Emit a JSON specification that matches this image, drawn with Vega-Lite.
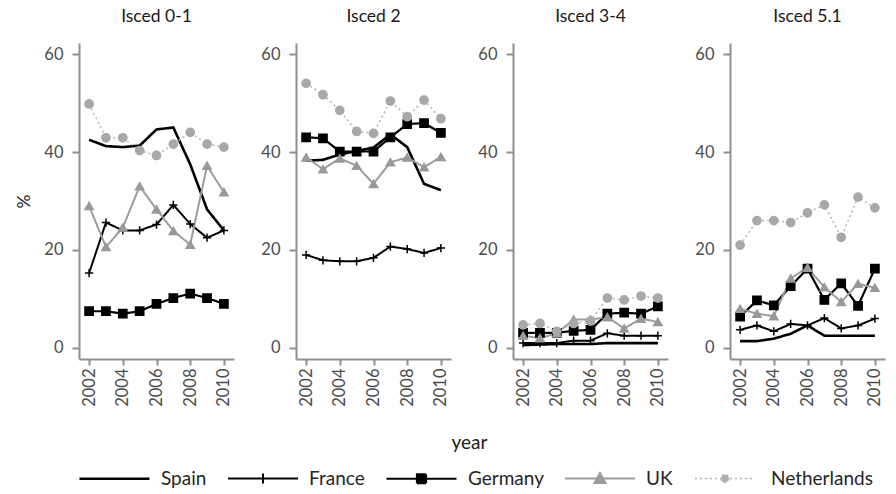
{
  "$schema": "https://vega.github.io/schema/vega-lite/v6.json",
  "padding": {"left": 15, "top": 7, "right": 4, "bottom": 2},
  "background": "white",
  "bounds": "flush",
  "data": {"values": [
    {"level":"Isced 0-1","country":"Spain","year":2002,"value":42.5},{"level":"Isced 0-1","country":"Spain","year":2003,"value":41.2},{"level":"Isced 0-1","country":"Spain","year":2004,"value":41},{"level":"Isced 0-1","country":"Spain","year":2005,"value":41.3},{"level":"Isced 0-1","country":"Spain","year":2006,"value":44.6},{"level":"Isced 0-1","country":"Spain","year":2007,"value":45},{"level":"Isced 0-1","country":"Spain","year":2008,"value":37.5},{"level":"Isced 0-1","country":"Spain","year":2009,"value":28.3},{"level":"Isced 0-1","country":"Spain","year":2010,"value":24},
    {"level":"Isced 0-1","country":"France","year":2002,"value":15.3},{"level":"Isced 0-1","country":"France","year":2003,"value":25.6},{"level":"Isced 0-1","country":"France","year":2004,"value":24},{"level":"Isced 0-1","country":"France","year":2005,"value":24},{"level":"Isced 0-1","country":"France","year":2006,"value":25.2},{"level":"Isced 0-1","country":"France","year":2007,"value":29.2},{"level":"Isced 0-1","country":"France","year":2008,"value":25.3},{"level":"Isced 0-1","country":"France","year":2009,"value":22.5},{"level":"Isced 0-1","country":"France","year":2010,"value":24},
    {"level":"Isced 0-1","country":"Germany","year":2002,"value":7.5},{"level":"Isced 0-1","country":"Germany","year":2003,"value":7.5},{"level":"Isced 0-1","country":"Germany","year":2004,"value":7},{"level":"Isced 0-1","country":"Germany","year":2005,"value":7.5},{"level":"Isced 0-1","country":"Germany","year":2006,"value":9},{"level":"Isced 0-1","country":"Germany","year":2007,"value":10.2},{"level":"Isced 0-1","country":"Germany","year":2008,"value":11.1},{"level":"Isced 0-1","country":"Germany","year":2009,"value":10.2},{"level":"Isced 0-1","country":"Germany","year":2010,"value":9},
    {"level":"Isced 0-1","country":"UK","year":2002,"value":29},{"level":"Isced 0-1","country":"UK","year":2003,"value":20.6},{"level":"Isced 0-1","country":"UK","year":2004,"value":24.6},{"level":"Isced 0-1","country":"UK","year":2005,"value":33},{"level":"Isced 0-1","country":"UK","year":2006,"value":28.3},{"level":"Isced 0-1","country":"UK","year":2007,"value":23.9},{"level":"Isced 0-1","country":"UK","year":2008,"value":21.1},{"level":"Isced 0-1","country":"UK","year":2009,"value":37.2},{"level":"Isced 0-1","country":"UK","year":2010,"value":31.8},
    {"level":"Isced 0-1","country":"Netherlands","year":2002,"value":49.8},{"level":"Isced 0-1","country":"Netherlands","year":2003,"value":42.9},{"level":"Isced 0-1","country":"Netherlands","year":2004,"value":42.9},{"level":"Isced 0-1","country":"Netherlands","year":2005,"value":40.3},{"level":"Isced 0-1","country":"Netherlands","year":2006,"value":39.3},{"level":"Isced 0-1","country":"Netherlands","year":2007,"value":41.6},{"level":"Isced 0-1","country":"Netherlands","year":2008,"value":44},{"level":"Isced 0-1","country":"Netherlands","year":2009,"value":41.6},{"level":"Isced 0-1","country":"Netherlands","year":2010,"value":41},

    {"level":"Isced 2","country":"Spain","year":2002,"value":38.2},{"level":"Isced 2","country":"Spain","year":2003,"value":38.4},{"level":"Isced 2","country":"Spain","year":2004,"value":39.5},{"level":"Isced 2","country":"Spain","year":2005,"value":40.2},{"level":"Isced 2","country":"Spain","year":2006,"value":40.9},{"level":"Isced 2","country":"Spain","year":2007,"value":43.6},{"level":"Isced 2","country":"Spain","year":2008,"value":41},{"level":"Isced 2","country":"Spain","year":2009,"value":33.5},{"level":"Isced 2","country":"Spain","year":2010,"value":32.2},
    {"level":"Isced 2","country":"France","year":2002,"value":19},{"level":"Isced 2","country":"France","year":2003,"value":17.9},{"level":"Isced 2","country":"France","year":2004,"value":17.7},{"level":"Isced 2","country":"France","year":2005,"value":17.7},{"level":"Isced 2","country":"France","year":2006,"value":18.4},{"level":"Isced 2","country":"France","year":2007,"value":20.7},{"level":"Isced 2","country":"France","year":2008,"value":20.2},{"level":"Isced 2","country":"France","year":2009,"value":19.4},{"level":"Isced 2","country":"France","year":2010,"value":20.4},
    {"level":"Isced 2","country":"Germany","year":2002,"value":43},{"level":"Isced 2","country":"Germany","year":2003,"value":42.8},{"level":"Isced 2","country":"Germany","year":2004,"value":40.1},{"level":"Isced 2","country":"Germany","year":2005,"value":40.1},{"level":"Isced 2","country":"Germany","year":2006,"value":40.1},{"level":"Isced 2","country":"Germany","year":2007,"value":43},{"level":"Isced 2","country":"Germany","year":2008,"value":45.7},{"level":"Isced 2","country":"Germany","year":2009,"value":45.9},{"level":"Isced 2","country":"Germany","year":2010,"value":43.9},
    {"level":"Isced 2","country":"UK","year":2002,"value":38.9},{"level":"Isced 2","country":"UK","year":2003,"value":36.5},{"level":"Isced 2","country":"UK","year":2004,"value":38.7},{"level":"Isced 2","country":"UK","year":2005,"value":37.2},{"level":"Isced 2","country":"UK","year":2006,"value":33.5},{"level":"Isced 2","country":"UK","year":2007,"value":37.9},{"level":"Isced 2","country":"UK","year":2008,"value":38.9},{"level":"Isced 2","country":"UK","year":2009,"value":36.9},{"level":"Isced 2","country":"UK","year":2010,"value":39},
    {"level":"Isced 2","country":"Netherlands","year":2002,"value":54},{"level":"Isced 2","country":"Netherlands","year":2003,"value":51.7},{"level":"Isced 2","country":"Netherlands","year":2004,"value":48.5},{"level":"Isced 2","country":"Netherlands","year":2005,"value":44.2},{"level":"Isced 2","country":"Netherlands","year":2006,"value":43.8},{"level":"Isced 2","country":"Netherlands","year":2007,"value":50.4},{"level":"Isced 2","country":"Netherlands","year":2008,"value":47.2},{"level":"Isced 2","country":"Netherlands","year":2009,"value":50.6},{"level":"Isced 2","country":"Netherlands","year":2010,"value":46.8},

    {"level":"Isced 3-4","country":"Spain","year":2002,"value":0.6},{"level":"Isced 3-4","country":"Spain","year":2003,"value":0.7},{"level":"Isced 3-4","country":"Spain","year":2004,"value":0.8},{"level":"Isced 3-4","country":"Spain","year":2005,"value":0.8},{"level":"Isced 3-4","country":"Spain","year":2006,"value":0.8},{"level":"Isced 3-4","country":"Spain","year":2007,"value":1},{"level":"Isced 3-4","country":"Spain","year":2008,"value":1},{"level":"Isced 3-4","country":"Spain","year":2009,"value":1},{"level":"Isced 3-4","country":"Spain","year":2010,"value":1},
    {"level":"Isced 3-4","country":"France","year":2002,"value":1},{"level":"Isced 3-4","country":"France","year":2003,"value":1},{"level":"Isced 3-4","country":"France","year":2004,"value":1},{"level":"Isced 3-4","country":"France","year":2005,"value":1.5},{"level":"Isced 3-4","country":"France","year":2006,"value":1.5},{"level":"Isced 3-4","country":"France","year":2007,"value":3},{"level":"Isced 3-4","country":"France","year":2008,"value":2.5},{"level":"Isced 3-4","country":"France","year":2009,"value":2.5},{"level":"Isced 3-4","country":"France","year":2010,"value":2.5},
    {"level":"Isced 3-4","country":"Germany","year":2002,"value":3.1},{"level":"Isced 3-4","country":"Germany","year":2003,"value":3.1},{"level":"Isced 3-4","country":"Germany","year":2004,"value":3.1},{"level":"Isced 3-4","country":"Germany","year":2005,"value":3.5},{"level":"Isced 3-4","country":"Germany","year":2006,"value":3.7},{"level":"Isced 3-4","country":"Germany","year":2007,"value":7},{"level":"Isced 3-4","country":"Germany","year":2008,"value":7.2},{"level":"Isced 3-4","country":"Germany","year":2009,"value":7},{"level":"Isced 3-4","country":"Germany","year":2010,"value":8.5},
    {"level":"Isced 3-4","country":"UK","year":2002,"value":2.5},{"level":"Isced 3-4","country":"UK","year":2003,"value":2},{"level":"Isced 3-4","country":"UK","year":2004,"value":3},{"level":"Isced 3-4","country":"UK","year":2005,"value":5.8},{"level":"Isced 3-4","country":"UK","year":2006,"value":5.8},{"level":"Isced 3-4","country":"UK","year":2007,"value":6.3},{"level":"Isced 3-4","country":"UK","year":2008,"value":4},{"level":"Isced 3-4","country":"UK","year":2009,"value":6},{"level":"Isced 3-4","country":"UK","year":2010,"value":5.3},
    {"level":"Isced 3-4","country":"Netherlands","year":2002,"value":4.7},{"level":"Isced 3-4","country":"Netherlands","year":2003,"value":5},{"level":"Isced 3-4","country":"Netherlands","year":2004,"value":3.4},{"level":"Isced 3-4","country":"Netherlands","year":2005,"value":5},{"level":"Isced 3-4","country":"Netherlands","year":2006,"value":5.5},{"level":"Isced 3-4","country":"Netherlands","year":2007,"value":10.2},{"level":"Isced 3-4","country":"Netherlands","year":2008,"value":9.8},{"level":"Isced 3-4","country":"Netherlands","year":2009,"value":10.6},{"level":"Isced 3-4","country":"Netherlands","year":2010,"value":10.2},

    {"level":"Isced 5.1","country":"Spain","year":2002,"value":1.4},{"level":"Isced 5.1","country":"Spain","year":2003,"value":1.4},{"level":"Isced 5.1","country":"Spain","year":2004,"value":1.9},{"level":"Isced 5.1","country":"Spain","year":2005,"value":2.9},{"level":"Isced 5.1","country":"Spain","year":2006,"value":4.6},{"level":"Isced 5.1","country":"Spain","year":2007,"value":2.5},{"level":"Isced 5.1","country":"Spain","year":2008,"value":2.5},{"level":"Isced 5.1","country":"Spain","year":2009,"value":2.5},{"level":"Isced 5.1","country":"Spain","year":2010,"value":2.5},
    {"level":"Isced 5.1","country":"France","year":2002,"value":3.7},{"level":"Isced 5.1","country":"France","year":2003,"value":4.6},{"level":"Isced 5.1","country":"France","year":2004,"value":3.4},{"level":"Isced 5.1","country":"France","year":2005,"value":4.9},{"level":"Isced 5.1","country":"France","year":2006,"value":4.6},{"level":"Isced 5.1","country":"France","year":2007,"value":6.1},{"level":"Isced 5.1","country":"France","year":2008,"value":4},{"level":"Isced 5.1","country":"France","year":2009,"value":4.6},{"level":"Isced 5.1","country":"France","year":2010,"value":6},
    {"level":"Isced 5.1","country":"Germany","year":2002,"value":6.4},{"level":"Isced 5.1","country":"Germany","year":2003,"value":9.7},{"level":"Isced 5.1","country":"Germany","year":2004,"value":8.7},{"level":"Isced 5.1","country":"Germany","year":2005,"value":12.6},{"level":"Isced 5.1","country":"Germany","year":2006,"value":16.2},{"level":"Isced 5.1","country":"Germany","year":2007,"value":9.8},{"level":"Isced 5.1","country":"Germany","year":2008,"value":13.2},{"level":"Isced 5.1","country":"Germany","year":2009,"value":8.6},{"level":"Isced 5.1","country":"Germany","year":2010,"value":16.2},
    {"level":"Isced 5.1","country":"UK","year":2002,"value":8},{"level":"Isced 5.1","country":"UK","year":2003,"value":7},{"level":"Isced 5.1","country":"UK","year":2004,"value":6.5},{"level":"Isced 5.1","country":"UK","year":2005,"value":14.2},{"level":"Isced 5.1","country":"UK","year":2006,"value":16.4},{"level":"Isced 5.1","country":"UK","year":2007,"value":12.4},{"level":"Isced 5.1","country":"UK","year":2008,"value":9.4},{"level":"Isced 5.1","country":"UK","year":2009,"value":13.1},{"level":"Isced 5.1","country":"UK","year":2010,"value":12.3},
    {"level":"Isced 5.1","country":"Netherlands","year":2002,"value":21},{"level":"Isced 5.1","country":"Netherlands","year":2003,"value":26},{"level":"Isced 5.1","country":"Netherlands","year":2004,"value":26},{"level":"Isced 5.1","country":"Netherlands","year":2005,"value":25.6},{"level":"Isced 5.1","country":"Netherlands","year":2006,"value":27.6},{"level":"Isced 5.1","country":"Netherlands","year":2007,"value":29.2},{"level":"Isced 5.1","country":"Netherlands","year":2008,"value":22.6},{"level":"Isced 5.1","country":"Netherlands","year":2009,"value":30.8},{"level":"Isced 5.1","country":"Netherlands","year":2010,"value":28.6}
  ]},
  "hconcat": [
    {
      "title": "Isced 0-1", "width": 155, "height": 316,
      "transform": [{"filter": "datum.level === 'Isced 0-1'"}],
      "encoding": {
        "x": {"field": "year", "type": "quantitative", "scale": {"domain": [2001.4, 2010.6], "nice": false, "zero": false}, "axis": {"values": [2002, 2004, 2006, 2008, 2010], "format": "d", "labelAngle": -90, "title": null}},
        "y": {"field": "value", "type": "quantitative", "scale": {"domain": [-2.25, 62.25], "nice": false, "zero": false}, "axis": {"values": [0, 20, 40, 60], "title": "%", "titlePadding": 10}}
      },
      "layer": [
        {"mark": {"type": "line"}, "encoding": {
          "color": {"field": "country", "type": "nominal", "scale": {"domain": ["Spain", "France", "Germany", "UK", "Netherlands"], "range": ["#000000", "#000000", "#000000", "#9c9c9c", "#b5b5b5"]},
            "legend": {"title": null, "orient": "bottom", "direction": "horizontal", "symbolSize": 400, "symbolStrokeWidth": 2, "labelFontSize": 19, "labelColor": "#262626", "labelOffset": 59, "columnPadding": 17, "offset": 14,
              "encode": {"symbols": {"update": {
                "shape": {"signal": "datum.value === 'Spain' ? 'M-1.1,0H5.9' : datum.value === 'France' ? 'M-1.1,0H5.9M2.4,-0.5V0.5' : datum.value === 'Germany' ? 'M-1.1,0H5.9M1.95,-0.45H2.85V0.45H1.95Z' : datum.value === 'UK' ? 'M-1.1,0H5.9M2.4,-0.55L2.95,0.45H1.85Z' : 'M-0.6,0H5.4M2.8,0A0.4,0.4 0 1,1 2,0A0.4,0.4 0 1,1 2.8,0Z'"},
                "stroke": {"signal": "datum.value === 'UK' ? '#9c9c9c' : datum.value === 'Netherlands' ? '#b0b0b0' : '#000000'"},
                "fill": {"signal": "datum.value === 'UK' ? '#9c9c9c' : datum.value === 'Netherlands' ? '#b0b0b0' : '#000000'"},
                "strokeWidth": {"signal": "datum.value === 'Spain' ? 3 : datum.value === 'Netherlands' ? 1.6 : 2.4"},
                "strokeDash": {"signal": "datum.value === 'Netherlands' ? [2, 3] : [1, 0]"},
                "opacity": {"value": 1}, "fillOpacity": {"value": 1}, "strokeOpacity": {"value": 1}
              }}}}},
          "strokeDash": {"field": "country", "type": "nominal", "scale": {"domain": ["Spain", "France", "Germany", "UK", "Netherlands"], "range": [[1, 0], [1, 0], [1, 0], [1, 0], [2, 3]]}, "legend": null},
          "strokeWidth": {"field": "country", "type": "nominal", "scale": {"type": "ordinal", "domain": ["Spain", "France", "Germany", "UK", "Netherlands"], "range": [2.6, 2, 2.2, 2, 1.5]}, "legend": null}
        }},
        {"transform": [{"filter": "datum.country !== 'Spain'"}],
         "mark": {"type": "point", "filled": true, "opacity": 1, "strokeWidth": 1.5, "size": 68},
         "encoding": {
          "shape": {"field": "country", "type": "nominal", "scale": {"domain": ["France", "Germany", "UK", "Netherlands"], "range": ["M-1,0H1M0,-1V1", "square", "triangle-up", "circle"]}, "legend": null},
          "fill": {"field": "country", "type": "nominal", "scale": {"domain": ["France", "Germany", "UK", "Netherlands"], "range": ["#000000", "#000000", "#999999", "#a8a8a8"]}, "legend": null},
          "stroke": {"field": "country", "type": "nominal", "scale": {"domain": ["France", "Germany", "UK", "Netherlands"], "range": ["#000000", "#000000", "#999999", "#a8a8a8"]}, "legend": null}
        }}
      ]
    },
    {
      "title": "Isced 2", "width": 155, "height": 316,
      "transform": [{"filter": "datum.level === 'Isced 2'"}],
      "encoding": {
        "x": {"field": "year", "type": "quantitative", "scale": {"domain": [2001.4, 2010.6], "nice": false, "zero": false}, "axis": {"values": [2002, 2004, 2006, 2008, 2010], "format": "d", "labelAngle": -90, "title": "year", "titleAnchor": "end", "titleAlign": "left", "titlePadding": 27, "titleFontSize": 19}},
        "y": {"field": "value", "type": "quantitative", "scale": {"domain": [-2.25, 62.25], "nice": false, "zero": false}, "axis": {"values": [0, 20, 40, 60], "title": null}}
      },
      "layer": [
        {"mark": {"type": "line"}, "encoding": {
          "color": {"field": "country", "type": "nominal", "scale": {"domain": ["Spain", "France", "Germany", "UK", "Netherlands"], "range": ["#000000", "#000000", "#000000", "#9c9c9c", "#b5b5b5"]}},
          "strokeDash": {"field": "country", "type": "nominal", "scale": {"domain": ["Spain", "France", "Germany", "UK", "Netherlands"], "range": [[1, 0], [1, 0], [1, 0], [1, 0], [2, 3]]}, "legend": null},
          "strokeWidth": {"field": "country", "type": "nominal", "scale": {"type": "ordinal", "domain": ["Spain", "France", "Germany", "UK", "Netherlands"], "range": [2.6, 2, 2.2, 2, 1.5]}, "legend": null}
        }},
        {"transform": [{"filter": "datum.country !== 'Spain'"}],
         "mark": {"type": "point", "filled": true, "opacity": 1, "strokeWidth": 1.5, "size": 68},
         "encoding": {
          "shape": {"field": "country", "type": "nominal", "scale": {"domain": ["France", "Germany", "UK", "Netherlands"], "range": ["M-1,0H1M0,-1V1", "square", "triangle-up", "circle"]}, "legend": null},
          "fill": {"field": "country", "type": "nominal", "scale": {"domain": ["France", "Germany", "UK", "Netherlands"], "range": ["#000000", "#000000", "#999999", "#a8a8a8"]}, "legend": null},
          "stroke": {"field": "country", "type": "nominal", "scale": {"domain": ["France", "Germany", "UK", "Netherlands"], "range": ["#000000", "#000000", "#999999", "#a8a8a8"]}, "legend": null}
        }}
      ]
    },
    {
      "title": "Isced 3-4", "width": 155, "height": 316,
      "transform": [{"filter": "datum.level === 'Isced 3-4'"}],
      "encoding": {
        "x": {"field": "year", "type": "quantitative", "scale": {"domain": [2001.4, 2010.6], "nice": false, "zero": false}, "axis": {"values": [2002, 2004, 2006, 2008, 2010], "format": "d", "labelAngle": -90, "title": null}},
        "y": {"field": "value", "type": "quantitative", "scale": {"domain": [-2.25, 62.25], "nice": false, "zero": false}, "axis": {"values": [0, 20, 40, 60], "title": null}}
      },
      "layer": [
        {"mark": {"type": "line"}, "encoding": {
          "color": {"field": "country", "type": "nominal", "scale": {"domain": ["Spain", "France", "Germany", "UK", "Netherlands"], "range": ["#000000", "#000000", "#000000", "#9c9c9c", "#b5b5b5"]}},
          "strokeDash": {"field": "country", "type": "nominal", "scale": {"domain": ["Spain", "France", "Germany", "UK", "Netherlands"], "range": [[1, 0], [1, 0], [1, 0], [1, 0], [2, 3]]}, "legend": null},
          "strokeWidth": {"field": "country", "type": "nominal", "scale": {"type": "ordinal", "domain": ["Spain", "France", "Germany", "UK", "Netherlands"], "range": [2.6, 2, 2.2, 2, 1.5]}, "legend": null}
        }},
        {"transform": [{"filter": "datum.country !== 'Spain'"}],
         "mark": {"type": "point", "filled": true, "opacity": 1, "strokeWidth": 1.5, "size": 68},
         "encoding": {
          "shape": {"field": "country", "type": "nominal", "scale": {"domain": ["France", "Germany", "UK", "Netherlands"], "range": ["M-1,0H1M0,-1V1", "square", "triangle-up", "circle"]}, "legend": null},
          "fill": {"field": "country", "type": "nominal", "scale": {"domain": ["France", "Germany", "UK", "Netherlands"], "range": ["#000000", "#000000", "#999999", "#a8a8a8"]}, "legend": null},
          "stroke": {"field": "country", "type": "nominal", "scale": {"domain": ["France", "Germany", "UK", "Netherlands"], "range": ["#000000", "#000000", "#999999", "#a8a8a8"]}, "legend": null}
        }}
      ]
    },
    {
      "title": "Isced 5.1", "width": 155, "height": 316,
      "transform": [{"filter": "datum.level === 'Isced 5.1'"}],
      "encoding": {
        "x": {"field": "year", "type": "quantitative", "scale": {"domain": [2001.4, 2010.6], "nice": false, "zero": false}, "axis": {"values": [2002, 2004, 2006, 2008, 2010], "format": "d", "labelAngle": -90, "title": null}},
        "y": {"field": "value", "type": "quantitative", "scale": {"domain": [-2.25, 62.25], "nice": false, "zero": false}, "axis": {"values": [0, 20, 40, 60], "title": null}}
      },
      "layer": [
        {"mark": {"type": "line"}, "encoding": {
          "color": {"field": "country", "type": "nominal", "scale": {"domain": ["Spain", "France", "Germany", "UK", "Netherlands"], "range": ["#000000", "#000000", "#000000", "#9c9c9c", "#b5b5b5"]}},
          "strokeDash": {"field": "country", "type": "nominal", "scale": {"domain": ["Spain", "France", "Germany", "UK", "Netherlands"], "range": [[1, 0], [1, 0], [1, 0], [1, 0], [2, 3]]}, "legend": null},
          "strokeWidth": {"field": "country", "type": "nominal", "scale": {"type": "ordinal", "domain": ["Spain", "France", "Germany", "UK", "Netherlands"], "range": [2.6, 2, 2.2, 2, 1.5]}, "legend": null}
        }},
        {"transform": [{"filter": "datum.country !== 'Spain'"}],
         "mark": {"type": "point", "filled": true, "opacity": 1, "strokeWidth": 1.5, "size": 68},
         "encoding": {
          "shape": {"field": "country", "type": "nominal", "scale": {"domain": ["France", "Germany", "UK", "Netherlands"], "range": ["M-1,0H1M0,-1V1", "square", "triangle-up", "circle"]}, "legend": null},
          "fill": {"field": "country", "type": "nominal", "scale": {"domain": ["France", "Germany", "UK", "Netherlands"], "range": ["#000000", "#000000", "#999999", "#a8a8a8"]}, "legend": null},
          "stroke": {"field": "country", "type": "nominal", "scale": {"domain": ["France", "Germany", "UK", "Netherlands"], "range": ["#000000", "#000000", "#999999", "#a8a8a8"]}, "legend": null}
        }}
      ]
    }
  ],
  "spacing": 62,
  "config": {
    "font": "Lato",
    "view": {"stroke": null},
    "axis": {"grid": false, "domainColor": "#8f8f8f", "domainWidth": 2, "tickColor": "#8f8f8f", "tickWidth": 2, "labelColor": "#4d4d4d", "labelFontSize": 16.5, "labelFont": "Lato", "titleFontSize": 17.5, "titleFont": "Lato", "titleFontWeight": "normal", "titleColor": "#1a1a1a"},
    "axisX": {"tickSize": 6, "labelPadding": 3},
    "axisY": {"tickSize": 7, "labelPadding": 9},
    "title": {"fontSize": 17.5, "font": "Lato", "fontWeight": "normal", "color": "#1a1a1a", "offset": 18, "anchor": "middle"},
    "legend": {"labelFont": "Lato"}
  }
}
